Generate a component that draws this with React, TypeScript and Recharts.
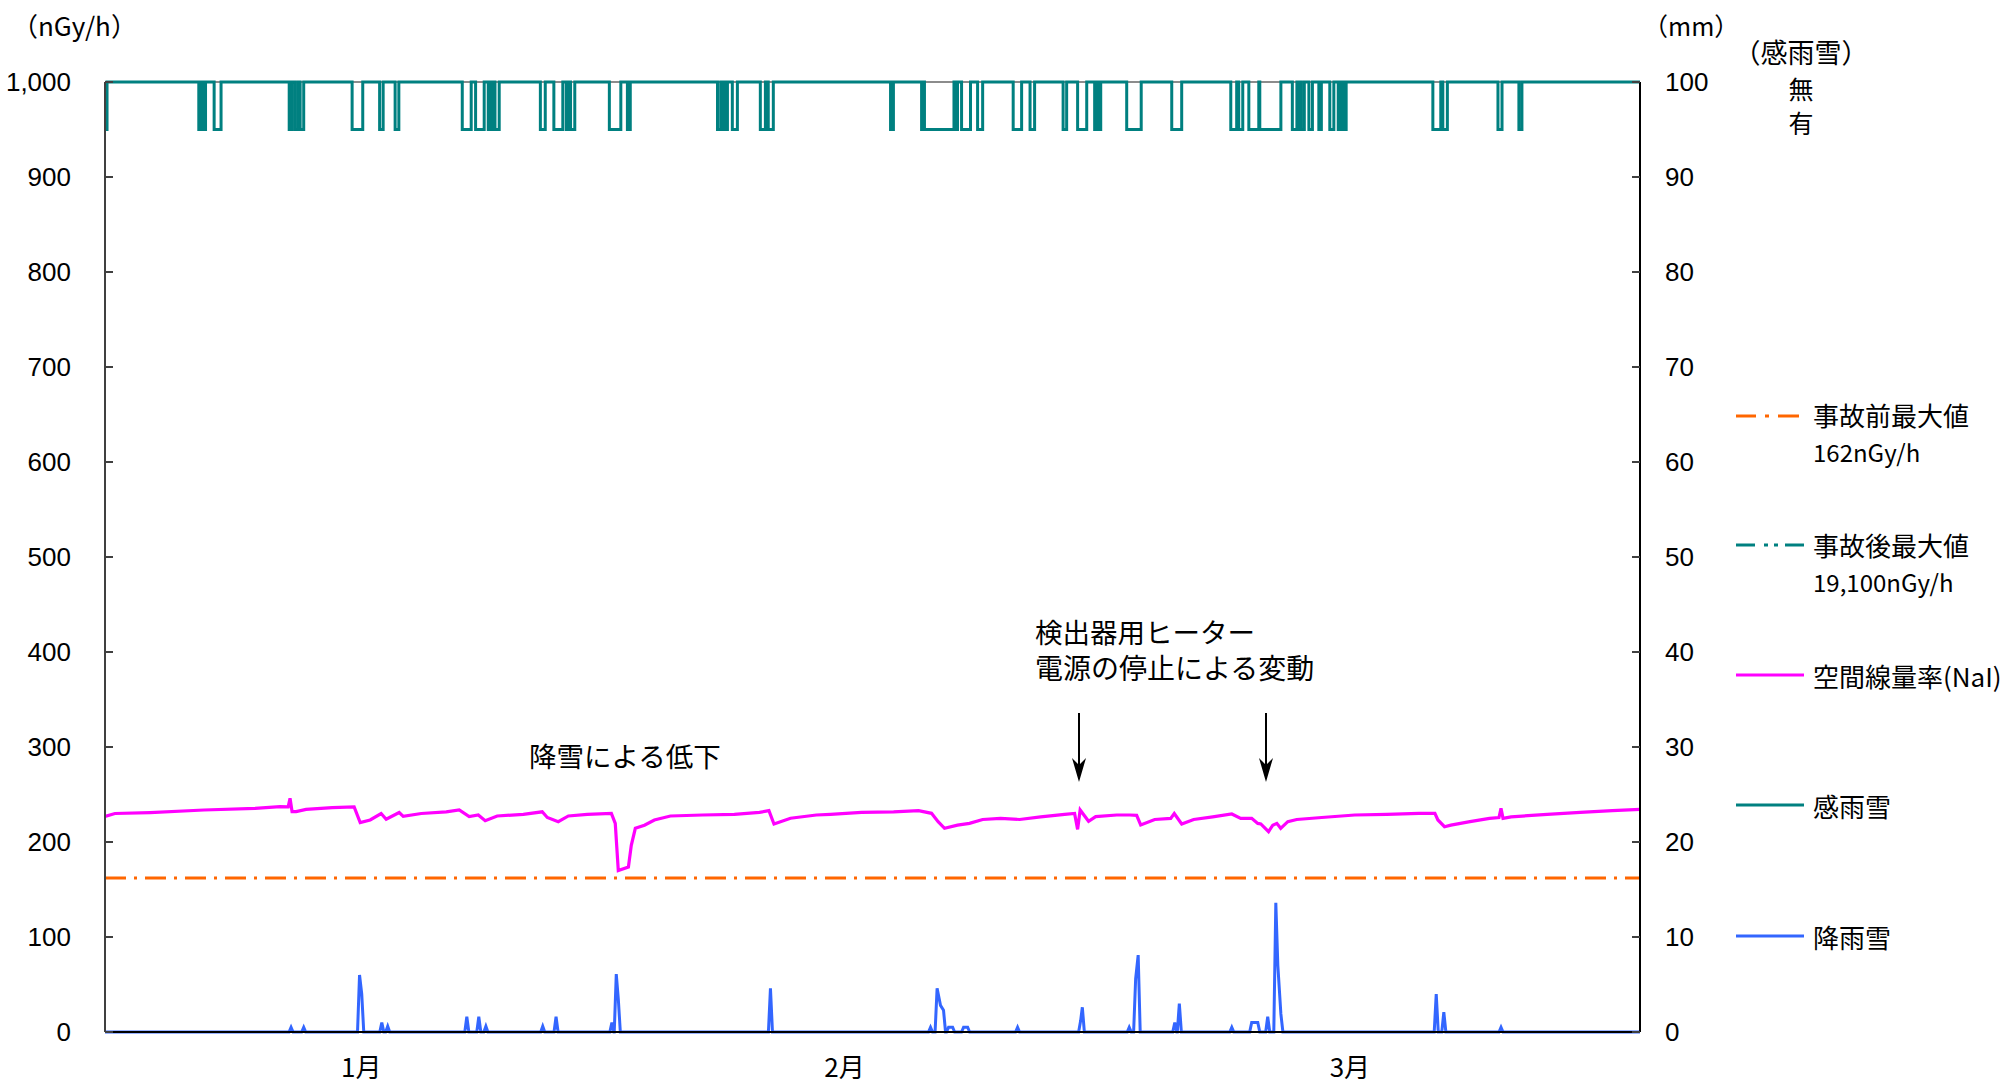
import React from "react";
import { LineChart, Line, XAxis, YAxis, CartesianGrid, ReferenceLine } from "recharts";

// x axis = days counted from 1 Jan
const monthTicks = [15.19, 43.84, 73.8];
const monthLabels = ["1月", "2月", "3月"];
const doseTicks = [0, 100, 200, 300, 400, 500, 600, 700, 800, 900, 1000];
const rainTicks = [0, 10, 20, 30, 40, 50, 60, 70, 80, 90, 100];

const preAccidentMax = 162; // nGy/h

// 空間線量率 (NaI), nGy/h
const doseDays = [
  0, 0.59, 2.67, 5.87, 8.9, 10.38, 10.86, 10.97, 11.09, 11.33, 11.92, 13.47, 14.77, 15.13, 15.72, 16.37,
  16.67, 17.44, 17.68, 18.75, 20.23, 21.0, 21.59, 22.13, 22.54, 23.25, 24.8, 25.92, 26.22, 26.87, 27.47,
  28.59, 30.02, 30.25, 30.43, 31.03, 31.2, 31.44, 31.98, 32.57, 33.52, 35.42, 37.31, 38.8, 39.36, 39.66,
  40.64, 42.17, 43.01, 44.85, 46.75, 48.23, 49.0, 49.39, 49.77, 50.54, 51.25, 52.03, 53.09, 54.22, 55.47,
  56.89, 57.48, 57.66, 57.81, 58.31, 58.73, 59.98, 60.75, 61.16, 61.4, 62.23, 63.18, 63.39, 63.83, 64.54,
  65.67, 66.8, 67.33, 67.98, 68.34, 68.52, 68.98, 69.23, 69.47, 69.7, 70.12, 70.65, 72.13, 74.09, 75.99,
  77.89, 78.84, 79.02, 79.41, 79.79, 80.92, 82.08, 82.64, 82.76, 82.88, 83.36, 85.5, 87.46, 89.36, 91,
];
const doseVals = [
  227, 230, 231, 233.7, 235.4, 237.2, 237, 246, 232, 232, 234.4, 236.1, 237, 220.4, 223.2, 230,
  224, 231, 227, 230, 231.8, 233.7, 226.7, 228.4, 222.4, 227.4, 229.1, 231.8, 225.8, 221.4, 227.4,
  229.1, 230.2, 219.6, 170, 173.7, 196.5, 214.4, 217.7, 223.2, 227.4, 228.4, 229.1, 231.2, 233, 219,
  225, 228.4, 229.1, 231.2, 231.8, 233, 230.2, 221.4, 214.4, 217.7, 219.6, 223.7, 224.9, 223.7, 226.5,
  229.1, 230, 213.3, 233.7, 221.8, 226.7, 228.4, 228.4, 228, 217.9, 223.7, 224.9, 230, 219, 223.7,
  226.5, 229.5, 224.9, 224.9, 219.6, 219, 210.9, 217.7, 219.6, 214.4, 221.4, 223.7, 225.8, 228.4, 229.1,
  230.2, 230.2, 223.2, 216.1, 217.7, 221.4, 224.9, 225.8, 235.4, 224.9, 226.5, 229.1, 231.2, 233, 234.4,
];

// 降雨雪, mm (peaks; zero elsewhere)
const rainDays = [
  11.03, 11.78, 15.09, 15.22, 16.41, 16.76, 21.45, 22.16, 22.58, 25.95, 26.74, 30.05, 30.31, 30.43,
  39.45, 48.94, 49.33, 49.53, 49.71, 50.01, 50.25, 50.9, 51.14, 54.1, 57.84, 57.94, 60.72, 61.1, 61.25,
  63.42, 63.69, 66.8, 67.98, 68.14, 68.34, 68.93, 69.41, 69.53, 69.71, 78.92, 79.37, 82.76,
];
const rainMm = [
  0.5, 0.5, 6.0, 4.0, 1.0, 0.6, 1.6, 1.6, 0.6, 0.6, 1.6, 1.0, 6.1, 3.5,
  4.6, 0.5, 4.6, 2.8, 2.3, 0.5, 0.5, 0.5, 0.5, 0.5, 1.2, 2.6, 0.5, 5.6, 8.1,
  1.0, 3.0, 0.5, 1.0, 1.0, 1.0, 1.6, 13.6, 7.0, 1.9, 4.0, 2.1, 0.5,
];

// 感雨雪: periods with precipitation detected (有)
const senseStart = [
  0, 5.56, 5.72, 5.86, 6.47, 10.92, 11.27, 11.57, 14.65, 16.28, 17.2, 21.18, 21.97, 22.72, 22.92, 23.12,
  25.81, 26.61, 27.35, 27.6, 29.9, 30.97, 36.31, 36.55, 36.75, 37.19, 38.85, 39.32, 46.57, 48.41, 48.58,
  50.45, 50.78, 51.73, 53.84, 54.84, 56.8, 57.66, 58.67, 58.88, 60.57, 63.24, 66.74, 67.21, 67.81, 68.46,
  70.39, 70.75, 70.92, 71.37, 71.96, 72.61, 73.11, 73.43, 78.72, 79.31, 82.58, 83.82,
];
const senseEnd = [
  0.12, 5.66, 5.8, 5.96, 6.88, 11.09, 11.45, 11.78, 15.28, 16.49, 17.42, 21.71, 22.48, 22.85, 23.05, 23.37,
  26.1, 27.14, 27.5, 27.85, 30.58, 31.14, 36.5, 36.7, 36.9, 37.49, 39.15, 39.62, 46.74, 48.5, 50.33,
  50.54, 51.31, 52.03, 54.34, 55.11, 57.01, 58.2, 58.8, 59.03, 61.43, 63.83, 67.09, 67.45, 68.4, 69.71,
  70.66, 70.85, 71.1, 71.58, 72.11, 72.85, 73.26, 73.58, 79.19, 79.58, 82.82, 84.0,
];
const SENSE_NONE = 1000;
const SENSE_YES = 950;

const W = 2008;
const H = 1085;
const numFont = '"Liberation Sans", Arial, sans-serif';
const jpFont = '"Noto Sans CJK JP", "Noto Sans", sans-serif';

const doseData = doseDays.map((d, i) => ({ d, v: doseVals[i] }));

const rainData = (() => {
  const pts = [{ d: 0, v: 0 }];
  rainDays.forEach((d, i) => {
    const prev = rainDays[i - 1];
    const next = rainDays[i + 1];
    if (prev === undefined || d - prev > 0.25) pts.push({ d: d - 0.12, v: 0 });
    pts.push({ d, v: rainMm[i] });
    if (next === undefined || next - d > 0.25) pts.push({ d: d + 0.12, v: 0 });
  });
  pts.push({ d: 91, v: 0 });
  return pts;
})();

const senseData = (() => {
  const pts: { d: number; v: number }[] = [];
  if (senseStart[0] > 0) pts.push({ d: 0, v: SENSE_NONE });
  senseStart.forEach((s, i) => {
    pts.push(
      { d: s, v: SENSE_NONE },
      { d: s, v: SENSE_YES },
      { d: senseEnd[i], v: SENSE_YES },
      { d: senseEnd[i], v: SENSE_NONE },
    );
  });
  pts.push({ d: 91, v: SENSE_NONE });
  return pts;
})();

function Arrow({ x }: { x: number }) {
  return (
    <g>
      <line x1={x} y1={713} x2={x} y2={768} stroke="#000" strokeWidth={2} />
      <polygon points={`${x},782 ${x - 7},758 ${x},765 ${x + 7},758`} fill="#000" />
    </g>
  );
}

function Overlay() {
  const lx0 = 1736;
  const tx = 1813;
  const jp = { fontFamily: jpFont, fill: "#000", dominantBaseline: "central" as const };
  return (
    <svg width={W} height={H} style={{ position: "absolute", left: 0, top: 0, pointerEvents: "none" }}>
      {/* unit labels */}
      <text x={12} y={24} fontSize={26} {...jp}>（nGy/h）</text>
      <text x={1643} y={25} fontSize={25} {...jp}>（mm）</text>
      <text x={1801} y={51} fontSize={27} textAnchor="middle" {...jp}>（感雨雪）</text>
      <text x={1801} y={88} fontSize={25} textAnchor="middle" {...jp}>無</text>
      <text x={1801} y={122} fontSize={25} textAnchor="middle" {...jp}>有</text>

      {/* annotations */}
      <text x={529} y={755} fontSize={27.5} {...jp}>降雪による低下</text>
      <text x={1035} y={631} fontSize={27.5} {...jp}>検出器用ヒーター</text>
      <text x={1035} y={667} fontSize={28} {...jp}>電源の停止による変動</text>
      <Arrow x={1079} />
      <Arrow x={1266} />

      {/* legend */}
      <g stroke="#ff6600" strokeWidth={3}>
        <line x1={lx0} y1={416} x2={1756} y2={416} />
        <line x1={1765} y1={416} x2={1769} y2={416} />
        <line x1={1778} y1={416} x2={1799} y2={416} />
      </g>
      <text x={tx} y={414} fontSize={26} {...jp}>事故前最大値</text>
      <text x={tx} y={451} fontSize={24} {...jp}>162nGy/h</text>

      <g stroke="#008080" strokeWidth={3}>
        <line x1={lx0} y1={545} x2={1755} y2={545} />
        <line x1={1764} y1={545} x2={1768} y2={545} />
        <line x1={1774} y1={545} x2={1778} y2={545} />
        <line x1={1785} y1={545} x2={1804} y2={545} />
      </g>
      <text x={tx} y={544} fontSize={26} {...jp}>事故後最大値</text>
      <text x={tx} y={581} fontSize={24} {...jp}>19,100nGy/h</text>

      <line x1={lx0} y1={675} x2={1804} y2={675} stroke="#ff00ff" strokeWidth={3} />
      <text x={tx} y={675} fontSize={26} {...jp}>空間線量率(NaI)</text>

      <line x1={lx0} y1={805} x2={1804} y2={805} stroke="#008080" strokeWidth={3} />
      <text x={tx} y={805} fontSize={26} {...jp}>感雨雪</text>

      <line x1={lx0} y1={936} x2={1804} y2={936} stroke="#3366ff" strokeWidth={3} />
      <text x={tx} y={936} fontSize={26} {...jp}>降雨雪</text>
    </svg>
  );
}

export default function App() {
  return (
    <div style={{ position: "absolute", left: 0, top: 0, width: W, height: H, background: "#fff" }}>
      <LineChart width={W} height={H} margin={{ top: 82, right: 0, bottom: 0, left: 0 }}>
        <CartesianGrid
          vertical={false}
          stroke="#8c8c8c"
          strokeWidth={2}
          horizontalCoordinatesGenerator={(p: any) => [p?.offset?.top ?? 82]}
        />
        <XAxis
          dataKey="d"
          type="number"
          domain={[0, 91]}
          allowDataOverflow
          ticks={monthTicks}
          interval={0}
          tickFormatter={(v) => monthLabels[monthTicks.indexOf(v)] ?? ""}
          height={53}
          tickLine={false}
          tickSize={0}
          tickMargin={27}
          axisLine={{ stroke: "#000", strokeWidth: 2 }}
          tick={{ fill: "#000", fontSize: 26, fontFamily: jpFont }}
        />
        <YAxis
          yAxisId="dose"
          orientation="left"
          domain={[0, 1000]}
          ticks={doseTicks}
          interval={0}
          width={105}
          tickSize={-8}
          tickMargin={42}
          axisLine={{ stroke: "#404040", strokeWidth: 2 }}
          tickLine={{ stroke: "#404040", strokeWidth: 2 }}
          tick={{ fill: "#000", fontSize: 26, fontFamily: numFont }}
          tickFormatter={(v) => Number(v).toLocaleString("en-US")}
        />
        <YAxis
          yAxisId="rain"
          orientation="right"
          domain={[0, 100]}
          ticks={rainTicks}
          interval={0}
          width={368}
          tickSize={-8}
          tickMargin={33}
          axisLine={{ stroke: "#000", strokeWidth: 2 }}
          tickLine={{ stroke: "#404040", strokeWidth: 2 }}
          tick={{ fill: "#000", fontSize: 26, fontFamily: numFont, textAnchor: "start" }}
        />
        <ReferenceLine
          yAxisId="dose"
          y={preAccidentMax}
          stroke="#ff6600"
          strokeWidth={3}
          strokeDasharray="21 8 3 8"
        />
        <Line
          yAxisId="dose"
          data={senseData}
          dataKey="v"
          type="linear"
          stroke="#008080"
          strokeWidth={3}
          dot={false}
          activeDot={false}
          isAnimationActive={false}
        />
        <Line
          yAxisId="dose"
          data={doseData}
          dataKey="v"
          type="linear"
          stroke="#ff00ff"
          strokeWidth={3.2}
          dot={false}
          activeDot={false}
          isAnimationActive={false}
        />
        <Line
          yAxisId="rain"
          data={rainData}
          dataKey="v"
          type="linear"
          stroke="#3366ff"
          strokeWidth={3}
          dot={false}
          activeDot={false}
          isAnimationActive={false}
        />
      </LineChart>
      <Overlay />
    </div>
  );
}
